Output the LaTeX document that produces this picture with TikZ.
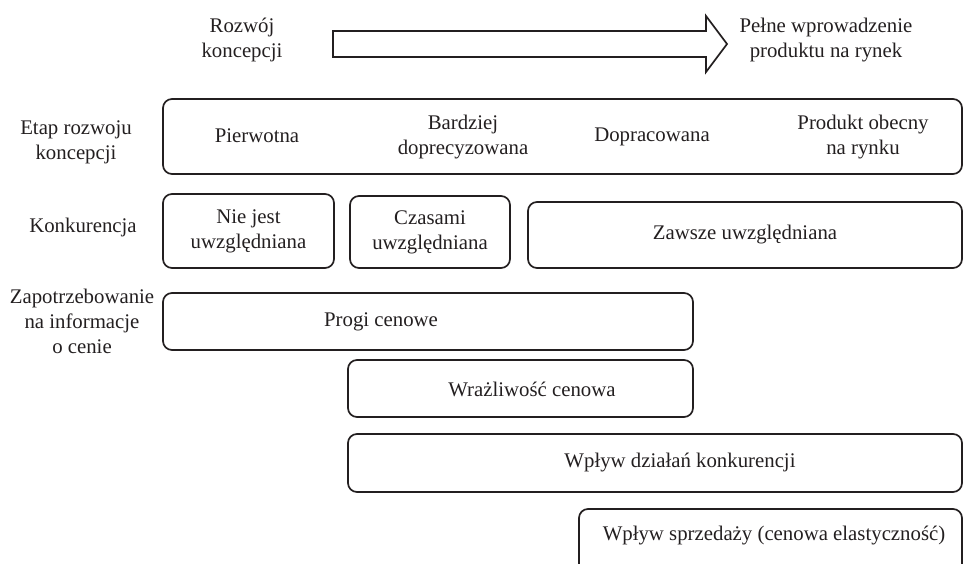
\documentclass[tikz,border=0pt]{standalone}
\usepackage{fontspec}
\setmainfont{Liberation Serif}
\definecolor{ink}{RGB}{35,31,32}
\begin{document}
\begin{tikzpicture}[x=1pt,y=-1pt,
  box/.style={draw=ink, line width=1.7pt, rounded corners=9pt, inner sep=0pt, align=center,
              font=\fontsize{20.8}{25}\selectfont, text=ink},
  txt/.style={font=\fontsize{20.8}{25}\selectfont, align=center, text=ink, inner sep=0pt},
]
\useasboundingbox (0,0) rectangle (965,564);
\clip (0,0) rectangle (965,564);

% top arrow
\draw[ink, line width=1.7pt, line join=miter]
  (333,31) -- (706,31) -- (706,16) -- (727,44) -- (706,72) -- (706,57) -- (333,57) -- cycle;
\node[txt] (start) at (242,40) {Rozwój\\koncepcji};
\node[txt] (end) at (826,40) {Pełne wprowadzenie\\produktu na rynek};

% row labels
\node[txt] (l1) at (76,142) {Etap rozwoju\\koncepcji};
\node[txt] (l2) at (83,227) {Konkurencja};
\node[txt] (l3) at (82,321) {Zapotrzebowanie\\na informacje\\o cenie};

% row 1
\node[box, minimum width=799pt, minimum height=75pt] (stage) at (562.5,136.5) {};
\node[txt] (s1) at (257,136) {Pierwotna};
\node[txt] (s2) at (463,137) {Bardziej\\doprecyzowana};
\node[txt] (s3) at (652,137) {Dopracowana};
\node[txt] (s4) at (863,137) {Produkt obecny\\na rynku};

% row 2
\node[box, minimum width=171pt, minimum height=74pt] (k1) at (248.5,231) {Nie jest\\uwzględniana};
\node[box, minimum width=160pt, minimum height=72pt] (k2) at (430,232) {Czasami\\uwzględniana};
\node[box, minimum width=434pt, minimum height=66pt] (k3) at (745,235) {};
\node[txt] (k3t) at (745,235) {Zawsze uwzględniana};

% row 3
\node[box, minimum width=530pt, minimum height=57pt] (p1) at (428,321.5) {};
\node[txt] (p1t) at (381,322) {Progi cenowe};
\node[box, minimum width=345pt, minimum height=57pt] (p2) at (520.5,388.5) {};
\node[txt] (p2t) at (532,389) {Wrażliwość cenowa};
\node[box, minimum width=614pt, minimum height=58pt] (p3) at (655,463) {};
\node[txt] (p3t) at (680,463) {Wpływ działań konkurencji};
\node[box, minimum width=383pt, minimum height=91pt] (p4) at (770.5,554.5) {};
\node[txt] (p4t) at (774,536) {Wpływ sprzedaży (cenowa elastyczność)};
\end{tikzpicture}
\end{document}
